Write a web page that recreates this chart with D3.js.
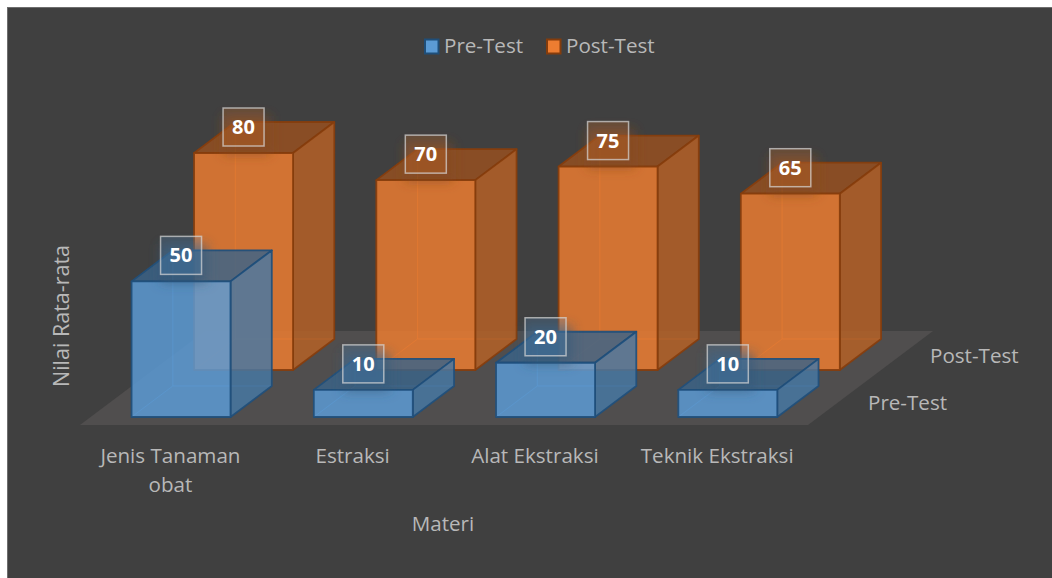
<!DOCTYPE html>
<html>
<head>
<meta charset="utf-8">
<script src="https://cdn.jsdelivr.net/npm/d3@7"></script>
<style>
  html, body { margin: 0; padding: 0; background: #fff; }
  svg { display: block; }
  text { font-family: "Open Sans", sans-serif; }
</style>
</head>
<body>
<svg id="chart" width="1052" height="578"></svg>
<script>
// data
const categories = ["Jenis Tanaman obat", "Estraksi", "Alat Ekstraksi", "Teknik Ekstraksi"];
const seriesNames = ["Pre-Test", "Post-Test"];
const preTest = [50, 10, 20, 10];
const postTest = [80, 70, 75, 65];
const seriesValues = [preTest, postTest];
const xTitle = "Materi";
const yTitle = "Nilai Rata-rata";

const colors = {
  "Pre-Test": { fill: "#5b9bd5", line: "#1f4e79" },
  "Post-Test": { fill: "#ed7d31", line: "#843c0c" }
};

const svg = d3.select("#chart");
const defs = svg.append("defs");
defs.append("filter").attr("id", "soft")
  .attr("x", "-50%").attr("y", "-50%").attr("width", "200%").attr("height", "200%")
  .append("feGaussianBlur").attr("stdDeviation", 6);

svg.append("rect")
  .attr("x", 7.5).attr("y", 7.5)
  .attr("width", 1060).attr("height", 590)
  .attr("fill", "#404040")
  .attr("stroke", "#6e6e6e");

/* SCALES */
const floorY = 425;        // front edge of the floor
const skew = 1.33;         // how far x moves for each pixel of depth

const xScale = d3.scaleBand()
  .domain(categories)
  .range([79.3, 808.3])
  .paddingInner(0.457)
  .paddingOuter(0.2285);

const depthScale = d3.scaleBand()
  .domain(seriesNames)
  .range([0, 94])
  .paddingInner(0.34)
  .paddingOuter(0.17);

const yScale = d3.scaleLinear()
  .domain([0, 80])
  .range([0, 217]);

// x along the category axis, d depth into the floor, h height above it
const project = (x, d, h) => [x + d * skew, floorY - d - h];
const path = pts => "M" + pts.map(p => p.join(",")).join("L") + "Z";

/* FLOOR */
const depthMax = depthScale.range()[1];
const floorLeft = 80, floorRight = 808;
svg.append("path")
  .attr("d", path([
    project(floorLeft, 0, 0), project(floorRight, 0, 0),
    project(floorRight, depthMax, 0), project(floorLeft, depthMax, 0)
  ]))
  .attr("fill", "#504e4e");

/* BARS */
function drawBar(g, series, cat, value) {
  const x0 = xScale(cat), x1 = x0 + xScale.bandwidth();
  const d0 = depthScale(series), d1 = d0 + depthScale.bandwidth();
  const h = yScale(value);
  const c = colors[series];

  const face = (pts, fill, opacity) => g.append("path")
    .attr("d", path(pts))
    .attr("fill", fill)
    .attr("fill-opacity", opacity)
    .attr("stroke", c.line)
    .attr("stroke-opacity", 0.9)
    .attr("stroke-width", 1.8)
    .attr("stroke-linejoin", "round");

  const thin = (pts, fill, opacity) => g.append("path")
    .attr("d", path(pts))
    .attr("fill", fill)
    .attr("fill-opacity", opacity)
    .attr("stroke", c.fill)
    .attr("stroke-opacity", 0.3)
    .attr("stroke-width", 1);

  const dark = d3.color(c.fill).darker(0.75).formatHex();
  const darker = d3.color(c.fill).darker(1.3).formatHex();

  // hidden faces first, they show through
  thin([project(x0, d1, 0), project(x1, d1, 0), project(x1, d1, h), project(x0, d1, h)], c.fill, 0.15);
  thin([project(x0, d0, 0), project(x0, d1, 0), project(x0, d1, h), project(x0, d0, h)], c.fill, 0.1);
  thin([project(x0, d0, 0), project(x1, d0, 0), project(x1, d1, 0), project(x0, d1, 0)], c.fill, 0.15);

  // top, side, front
  face([project(x0, d0, h), project(x1, d0, h), project(x1, d1, h), project(x0, d1, h)], darker, 0.8);
  face([project(x1, d0, 0), project(x1, d1, 0), project(x1, d1, h), project(x1, d0, h)], dark, 0.8);
  face([project(x0, d0, 0), project(x1, d0, 0), project(x1, d0, h), project(x0, d0, h)], c.fill, 0.82);
}

function drawLabel(g, series, cat, value) {
  const x = xScale(cat) + xScale.bandwidth() / 2;
  const d = depthScale(series);
  const h = yScale(value);
  const [cx, top] = project(x, d, h);
  const cy = top - 26;
  const boxW = 41, boxH = 38;
  const c = colors[series];

  // soft shadow the label throws on the top of the bar
  g.append("rect")
    .attr("x", cx - boxW / 2).attr("y", cy - boxH / 2 + 8)
    .attr("width", boxW + 6).attr("height", boxH)
    .attr("fill", d3.color(c.fill).darker(1.6).formatHex())
    .attr("fill-opacity", 0.6)
    .attr("filter", "url(#soft)");

  g.append("rect")
    .attr("x", cx - boxW / 2).attr("y", cy - boxH / 2)
    .attr("width", boxW).attr("height", boxH)
    .attr("fill", c.fill).attr("fill-opacity", 0.2)
    .attr("stroke", "#d9d9d9").attr("stroke-opacity", 0.7)
    .attr("stroke-width", 1.5);

  g.append("text")
    .attr("x", cx).attr("y", cy + 7)
    .attr("text-anchor", "middle")
    .attr("font-size", 20)
    .attr("font-weight", 700)
    .attr("fill", "#fff")
    .text(value);
}

// back row first so the front row sits over it
const barLayer = svg.append("g");
const labelLayer = svg.append("g");
[1, 0].forEach(s => {
  categories.forEach((cat, i) => drawBar(barLayer, seriesNames[s], cat, seriesValues[s][i]));
});
[1, 0].forEach(s => {
  categories.forEach((cat, i) => drawLabel(labelLayer, seriesNames[s], cat, seriesValues[s][i]));
});

/* AXIS LABELS */
const axisColor = "#b8b8b8";
const fontSize = 20.6;

const catLabels = svg.append("g").attr("fill", axisColor).attr("font-size", fontSize);
categories.forEach(cat => {
  const cx = xScale(cat) + xScale.bandwidth() / 2;
  const lines = cat === "Jenis Tanaman obat" ? ["Jenis Tanaman", "obat"] : [cat];
  lines.forEach((line, i) => {
    catLabels.append("text")
      .attr("x", cx).attr("y", 463 + i * 29)
      .attr("text-anchor", "middle")
      .text(line);
  });
});

svg.append("text")
  .attr("x", 443).attr("y", 531)
  .attr("text-anchor", "middle")
  .attr("fill", axisColor).attr("font-size", fontSize)
  .text(xTitle);

svg.append("text")
  .attr("transform", "translate(69,316) rotate(-90)")
  .attr("text-anchor", "middle")
  .attr("fill", axisColor).attr("font-size", 21.5)
  .text(yTitle);

// series names on the depth axis
const depthLabelX = { "Pre-Test": 868, "Post-Test": 930 };
const depthLabelY = { "Pre-Test": 410, "Post-Test": 363 };
seriesNames.forEach(s => {
  svg.append("text")
    .attr("x", depthLabelX[s]).attr("y", depthLabelY[s])
    .attr("fill", axisColor).attr("font-size", fontSize)
    .text(s);
});

/* LEGEND */
const legendX = { "Pre-Test": 425, "Post-Test": 547 };
seriesNames.forEach(s => {
  svg.append("rect")
    .attr("x", legendX[s]).attr("y", 39.5)
    .attr("width", 13.5).attr("height", 14)
    .attr("fill", colors[s].fill)
    .attr("stroke", colors[s].line)
    .attr("stroke-width", 2);
  svg.append("text")
    .attr("x", legendX[s] + 19).attr("y", 53)
    .attr("fill", axisColor).attr("font-size", fontSize)
    .text(s);
});
</script>
</body>
</html>
